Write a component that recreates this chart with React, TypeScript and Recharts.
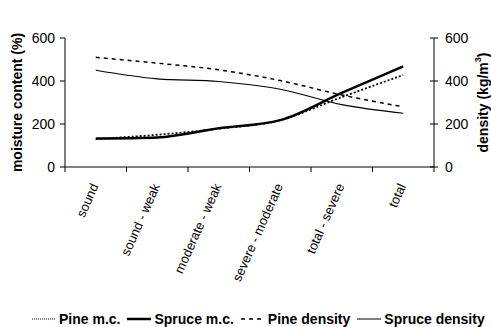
import { LineChart, Line, XAxis, YAxis, Legend } from "recharts";

const categories = ["sound", "sound - weak", "moderate - weak", "severe - moderate", "total - severe", "total"];
const pineMc = [130, 150, 178, 218, 325, 428];
const spruceMc = [132, 137, 180, 218, 345, 468];
const pineDensity = [510, 483, 452, 402, 335, 280];
const spruceDensity = [450, 410, 398, 362, 290, 250];
const yTicks = [0, 200, 400, 600];

const data = categories.map((c, i) => ({
  x: i + 0.5,
  name: c,
  pineMc: pineMc[i],
  spruceMc: spruceMc[i],
  pineDensity: pineDensity[i],
  spruceDensity: spruceDensity[i],
}));

const FONT = "'Liberation Sans', Arial, sans-serif";
const FS = 14;

const legendItems = [
  { label: "Pine m.c.", dash: "1 1", width: 1 },
  { label: "Spruce m.c.", dash: undefined, width: 2.5 },
  { label: "Pine density", dash: "4 4", width: 1.5 },
  { label: "Spruce density", dash: undefined, width: 1 },
];

const LegendBox = () => (
  <div style={{ display: "flex", justifyContent: "flex-start", alignItems: "center", paddingLeft: 32, height: 18,
    width: 491, boxSizing: "border-box", whiteSpace: "nowrap", lineHeight: "16px",
    fontFamily: FONT, fontWeight: "bold", fontSize: FS, color: "#000" }}>
    {legendItems.map((it) => (
      <span key={it.label} style={{ display: "flex", alignItems: "center", marginRight: 7, flexShrink: 0 }}>
        <svg width={24} height={10} style={{ marginRight: 3 }}>
          <line x1={0} y1={5} x2={24} y2={5} stroke="#000" strokeWidth={it.width} strokeDasharray={it.dash} />
        </svg>
        {it.label}
      </span>
    ))}
  </div>
);

const LeftLabel = ({ viewBox }: any) => {
  const cx = viewBox.x + 17;
  const cy = viewBox.y + viewBox.height / 2;
  return (
    <text x={cx} y={cy} transform={`rotate(-90 ${cx} ${cy})`} textAnchor="middle" dominantBaseline="central"
      fontFamily={FONT} fontWeight="bold" fontSize={FS} fill="#000">
      moisture content (%)
    </text>
  );
};

const RightLabel = ({ viewBox }: any) => {
  const cx = viewBox.x + 49;
  const cy = viewBox.y + viewBox.height / 2;
  return (
    <text x={cx} y={cy} transform={`rotate(-90 ${cx} ${cy})`} textAnchor="middle" dominantBaseline="central"
      fontFamily={FONT} fontWeight="bold" fontSize={FS} fill="#000">
      <tspan>density (kg/m</tspan>
      <tspan dy={-5} fontSize={9}>3</tspan>
      <tspan dy={5}>)</tspan>
    </text>
  );
};

const CatTick = ({ x, y, payload }: any) => {
  const ax = x + 3;
  const ay = y + 5;
  return (
    <text x={ax} y={ay} transform={`rotate(-66 ${ax} ${ay})`} textAnchor="end"
      fontFamily={FONT} fontSize={13} fill="#000">
      {categories[Math.floor(payload.value)]}
    </text>
  );
};

// right axis ticks cross the axis line
const RightTick = ({ x, y, payload }: any) => {
  const axisX = x - 11;
  return (
    <g>
      <line x1={axisX - 4} y1={y} x2={axisX + 4} y2={y} stroke="#000" />
      <text x={x} y={y} dominantBaseline="central" fontFamily={FONT} fontSize={FS} fill="#000">{payload.value}</text>
    </g>
  );
};

export default function App() {
  return (
    <div style={{ position: "absolute", left: 0, top: 0 }}>
      <LineChart width={491} height={327} data={data} margin={{ top: 38, right: 0, left: 0, bottom: 0 }}>
        <XAxis xAxisId="grid" type="number" dataKey="x" domain={[0, 6]} ticks={[0, 1, 2, 3, 4, 5, 6]}
          tickFormatter={() => ""} height={6} tickSize={5} stroke="#000" />
        <XAxis xAxisId="lab" type="number" dataKey="x" domain={[0, 6]} ticks={[0.5, 1.5, 2.5, 3.5, 4.5, 5.5]}
          axisLine={false} tickLine={false} height={136} interval={0} tick={<CatTick />} />
        <YAxis yAxisId="left" domain={[0, 600]} ticks={yTicks} width={65} stroke="#000" tickSize={5} tickMargin={5}
          tick={{ fontFamily: FONT, fontSize: FS, fill: "#000" }} label={<LeftLabel />} />
        <YAxis yAxisId="right" orientation="right" domain={[0, 600]} ticks={yTicks} width={57} stroke="#000"
          tickLine={false} tickSize={4} tickMargin={7} tick={<RightTick />} label={<RightLabel />} />
        <Legend verticalAlign="bottom" content={<LegendBox />} wrapperStyle={{ height: 18, width: 491, left: 0, bottom: -1 }} />
        <Line xAxisId="grid" yAxisId="left" type="monotone" dataKey="pineMc" stroke="#000" strokeWidth={1.8}
          strokeDasharray="2 2" dot={false} isAnimationActive={false} />
        <Line xAxisId="grid" yAxisId="left" type="monotone" dataKey="spruceMc" stroke="#000" strokeWidth={2.5}
          dot={false} isAnimationActive={false} />
        <Line xAxisId="grid" yAxisId="right" type="monotone" dataKey="pineDensity" stroke="#000" strokeWidth={1.5}
          strokeDasharray="4 4" dot={false} isAnimationActive={false} />
        <Line xAxisId="grid" yAxisId="right" type="monotone" dataKey="spruceDensity" stroke="#000" strokeWidth={1.1}
          dot={false} isAnimationActive={false} />
      </LineChart>
    </div>
  );
}
